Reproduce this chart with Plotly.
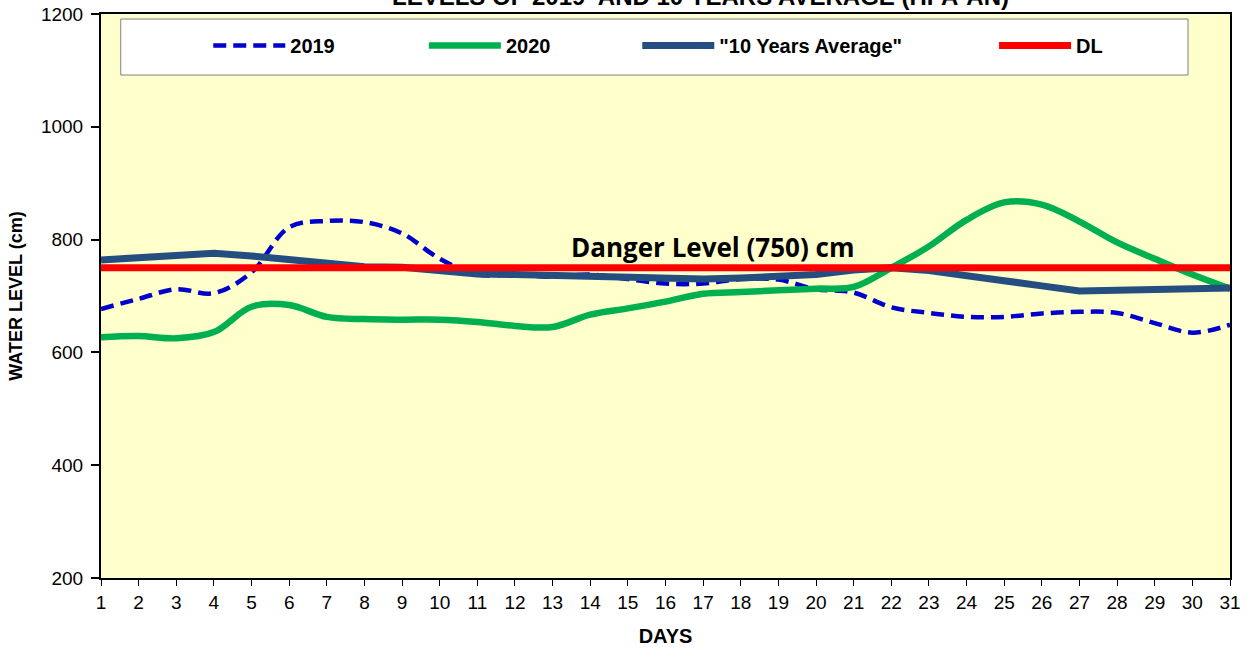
import plotly.graph_objects as go

days = list(range(1, 32))
tick_vals_y = [200, 400, 600, 800, 1000, 1200]

y2019 = [677, 695, 712, 705, 742, 822, 833, 831, 811, 766,
         738, 738, 734, 738, 730, 722, 722, 730, 729, 712,
         706, 680, 670, 663, 663, 669, 672, 670, 652, 635, 649]
y2020 = [627, 629, 625, 636, 681, 684, 663, 659, 658, 658,
         654, 647, 645, 667, 678, 690, 704, 707, 710, 713,
         716, 750, 788, 835, 866, 862, 832, 795, 766, 738, 713]
y_avg = [764, 767, 773, 776, 771, 764, 756, 752, 751, 746,
         739, 738, 736, 735, 733, 730, 730, 732, 735, 738,
         746, 750, 745, 737, 726, 718, 709, 711, 712, 713, 714]
danger_level = 750
y_dl = [danger_level] * len(days)

title_text = "LEVELS OF 2019  AND 10 YEARS AVERAGE (HPA-AN)"
dl_label = "Danger Level (750) cm"

AR = "Liberation Sans, Arial, sans-serif"

fig = go.Figure()
fig.add_trace(go.Scatter(x=days, y=y2019, name="2019", mode="lines",
                         line=dict(color="#0000CC", width=4.5, dash="13px,7px",
                                   shape="spline", smoothing=1.0),
                         legend="legend"))
fig.add_trace(go.Scatter(x=days, y=y2020, name="2020", mode="lines",
                         line=dict(color="#00B050", width=6.5, shape="spline", smoothing=1.0),
                         legend="legend2"))
fig.add_trace(go.Scatter(x=days, y=y_avg, name='"10 Years Average"', mode="lines",
                         line=dict(color="#244E80", width=7),
                         legend="legend3"))
fig.add_trace(go.Scatter(x=days, y=y_dl, name="DL", mode="lines",
                         line=dict(color="#FF0000", width=7),
                         legend="legend4"))

leg_common = dict(orientation="h", xanchor="left", yanchor="middle", y=0.944,
                  bgcolor="rgba(0,0,0,0)", borderwidth=0, itemwidth=72,
                  font=dict(family=AR, size=20, color="black", weight="bold"))

fig.update_layout(
    width=1252, height=652,
    margin=dict(l=101, r=22, t=14, b=74, autoexpand=False),
    paper_bgcolor="white",
    plot_bgcolor="#FFFFCC",
    font=dict(family=AR, color="black"),
    showlegend=True,
    legend=dict(x=0.095, **leg_common),
    legend2=dict(x=0.286, **leg_common),
    legend3=dict(x=0.475, **leg_common),
    legend4=dict(x=0.791, **leg_common),
    xaxis=dict(range=[1, 31], tickmode="array", tickvals=days, automargin=False,
               showgrid=False, zeroline=False,
               showline=True, linecolor="black", linewidth=2, mirror=True,
               ticks="outside", ticklen=6, tickcolor="black", tickwidth=1,
               tickfont=dict(family=AR, size=19, color="black"),
               title=dict(text="DAYS", standoff=17,
                          font=dict(family=AR, size=20, color="black", weight="bold"))),
    yaxis=dict(range=[200, 1200], tickmode="array", tickvals=tick_vals_y, automargin=False,
               showgrid=False, zeroline=False,
               showline=True, linecolor="black", linewidth=2, mirror=True,
               ticks="outside", ticklen=8, tickcolor="black", tickwidth=2,
               ticklabelstandoff=4,
               tickfont=dict(family=AR, size=19, color="black"),
               title=dict(text="WATER LEVEL (cm)", standoff=14,
                          font=dict(family=AR, size=18, color="black", weight="bold"))),
    shapes=[dict(type="rect", xref="paper", yref="paper",
                 x0=0.0175, x1=0.9628, y0=0.8918, y1=0.9911,
                 fillcolor="white", line=dict(color="#808080", width=1), layer="below")],
    annotations=[
        dict(text=title_text, xref="paper", yref="paper", x=0.531, y=1,
             xanchor="center", yanchor="bottom", yshift=2, showarrow=False,
             font=dict(family=AR, size=24, color="black", weight="bold")),
        dict(text=dl_label, xref="paper", x=0.542, yref="y", y=danger_level,
             xanchor="center", yanchor="bottom", yshift=1, showarrow=False,
             font=dict(family="Open Sans, Lato, sans-serif", size=26, color="black", weight="bold")),
    ],
)

post = ("document.body.style.margin='0';document.body.style.overflow='hidden';"
        "var gd=document.getElementById('{plot_id}');gd.style.position='absolute';"
        "gd.style.left='0px';gd.style.top='0px';")
fig.write_html("out.html", post_script=post, config={"displayModeBar": False})
